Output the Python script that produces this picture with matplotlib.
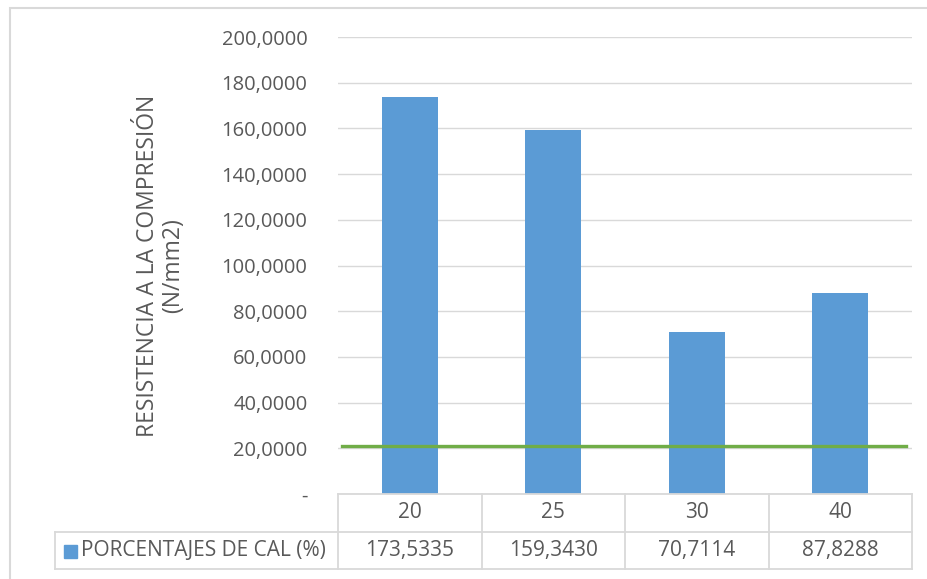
import matplotlib
matplotlib.use("Agg")
import matplotlib.pyplot as plt
from matplotlib.lines import Line2D
from matplotlib.patches import Rectangle

# --- DATOS ---
porcentajes = ["20", "25", "30", "40"]
resistencia = [173.5335, 159.3430, 70.7114, 87.8288]
etiquetas_tabla = ["173,5335", "159,3430", "70,7114", "87,8288"]
limite = 21.0
ticks_y = [0, 20, 40, 60, 80, 100, 120, 140, 160, 180, 200]
serie = "PORCENTAJES DE CAL (%)"

AZUL = "#5B9BD5"
VERDE = "#70AD47"
GRIS = "#D9D9D9"
TEXTO = "#595959"

plt.rcParams['font.family'] = ['Open Sans', 'DejaVu Sans']

W, H = 927, 579
fig = plt.figure(figsize=(W / 100, H / 100), dpi=100)

def fx(px):
    return px / W

def fy(py):
    return 1 - py / H

# zona de trazado (en pixeles)
x0, x1 = 338, 912
y_top, y_cero = 37, 494
ax = fig.add_axes([fx(x0), fy(y_cero), fx(x1) - fx(x0), fy(y_top) - fy(y_cero)])

xs = range(len(porcentajes))
ax.bar(xs, resistencia, width=0.39, color=AZUL, zorder=2)
ax.axhline(limite, xmin=4 / 574, xmax=568 / 574, color=VERDE, lw=2.4, zorder=3)

ax.set_xlim(-0.5, len(porcentajes) - 0.5)
ax.set_ylim(0, 200)
ax.set_yticks(ticks_y)
ax.set_yticklabels(["-"] + [f"{v},0000" for v in ticks_y[1:]])
ax.set_xticks([])
ax.tick_params(axis='y', length=0, pad=22, labelsize=14.5, labelcolor=TEXTO)
ax.yaxis.grid(True, color=GRIS, lw=1.0, zorder=0)
for s in ax.spines.values():
    s.set_visible(False)

ax.set_ylabel("RESISTENCIA A LA COMPRESIÓN\n(N/mm2)", fontsize=16.5, color=TEXTO,
              linespacing=1.1, labelpad=26)

# --- TABLA DE DATOS ---
r_mid, r_bot = 532, 569
x_lab = 55
col_w = (x1 - x0) / len(porcentajes)

def linea(xa, ya, xb, yb):
    fig.add_artist(Line2D([fx(xa), fx(xb)], [fy(ya), fy(yb)], color=GRIS, lw=1.3))

linea(x0, y_cero, x1, y_cero)
linea(x_lab, r_mid, x1, r_mid)
linea(x_lab, r_bot, x1, r_bot)
linea(x_lab, r_mid, x_lab, r_bot)
for i in range(len(porcentajes) + 1):
    xv = x0 + i * col_w
    linea(xv, y_cero, xv, r_bot)

for i, (p, v) in enumerate(zip(porcentajes, etiquetas_tabla)):
    cx = x0 + (i + 0.5) * col_w
    fig.text(fx(cx), fy((y_cero + r_mid) / 2), p, ha='center', va='center',
             fontsize=15, color=TEXTO)
    fig.text(fx(cx), fy((r_mid + r_bot) / 2), v, ha='center', va='center',
             fontsize=15, color=TEXTO)

fig.add_artist(Rectangle((fx(64), fy(558)), fx(13), fy(545) - fy(558),
                         color=AZUL, transform=fig.transFigure))
fig.text(fx(81), fy((r_mid + r_bot) / 2), serie, ha='left', va='center',
         fontsize=15, color=TEXTO)

# borde del grafico
fig.add_artist(Rectangle((fx(10), fy(600)), fx(940), fy(8) - fy(600), fill=False,
                         edgecolor=GRIS, lw=1.5, transform=fig.transFigure))

fig.savefig("out.png", dpi=100)
